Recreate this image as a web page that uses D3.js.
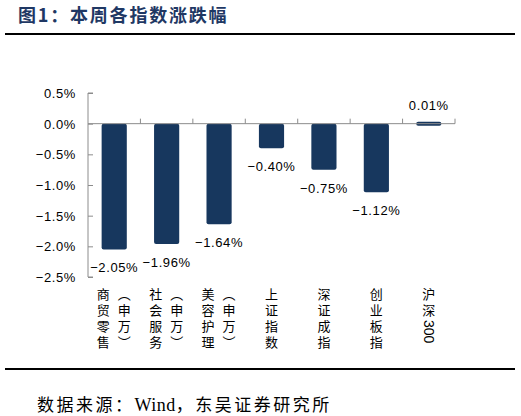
<!DOCTYPE html>
<html>
<head>
<meta charset="utf-8">
<script src="https://cdn.jsdelivr.net/npm/d3@7"></script>
<style>
  body { margin: 0; background: #fff; }
  svg { display: block; }
  .cat { font-family: "Noto Sans CJK SC", sans-serif; font-size: 13px; fill: #000; writing-mode: vertical-rl; letter-spacing: 3px; }
  .num { font-family: "Liberation Sans", Arial, sans-serif; font-size: 13px; fill: #000; letter-spacing: 0.6px; }
</style>
</head>
<body>
<svg id="chart" width="521" height="416"></svg>
<script>
// weekly change of each index (%)
const categories = ['商贸零售（申万）', '社会服务（申万）', '美容护理（申万）', '上证指数', '深证成指', '创业板指', '沪深300'];
// label columns for the vertical category text
const catLines = [
  ['商贸零售', '（申万）'],
  ['社会服务', '（申万）'],
  ['美容护理', '（申万）'],
  ['上证指数'],
  ['深证成指'],
  ['创业板指'],
  ['沪深300']
];
const values = [-2.05, -1.96, -1.64, -0.40, -0.75, -1.12, 0.01];
const yTicks = [0.5, 0.0, -0.5, -1.0, -1.5, -2.0, -2.5];

const svg = d3.select('#chart');
const barColor = '#17375e';
const axisColor = '#8c8c8c';

// title + rules
svg.append('text')
  .attr('x', 18).attr('y', 22)
  .attr('font-family', '"Noto Sans CJK SC", sans-serif')
  .attr('font-size', 18).attr('font-weight', 'bold')
  .attr('letter-spacing', 1.8)
  .attr('fill', '#1f3864')
  .text('图1：本周各指数涨跌幅');
svg.append('line').attr('x1', 5).attr('x2', 515).attr('y1', 34).attr('y2', 34)
  .attr('stroke', '#000').attr('stroke-width', 2);
svg.append('line').attr('x1', 5).attr('x2', 515).attr('y1', 369).attr('y2', 369)
  .attr('stroke', '#000').attr('stroke-width', 2);

const src = svg.append('text')
  .attr('x', 37).attr('y', 411)
  .attr('font-family', '"Noto Sans CJK SC", sans-serif')
  .attr('font-size', 17).attr('letter-spacing', 2.5).attr('fill', '#000');
src.append('tspan').text('数据来源：');
src.append('tspan').attr('font-family', '"Liberation Serif", serif').attr('font-size', 18).attr('letter-spacing', 0.5).text('Wind');
src.append('tspan').text('，东吴证券研究所');

// scales
const x = d3.scaleBand().domain(categories).range([88, 455]).paddingInner(0).paddingOuter(0);
const y = d3.scaleLinear().domain([-2.5, 0.5]).range([277, 93]);
const barW = x.bandwidth() * 0.48;

// y axis (ticks point inward)
const yAxis = svg.append('g').attr('transform', 'translate(88,0)')
  .call(d3.axisRight(y).tickValues(yTicks).tickSize(5).tickFormat(''));
yAxis.select('.domain').attr('stroke', axisColor).attr('d', `M5,${y(0.5)}H0V${y(-2.5)}H5`);
yAxis.selectAll('.tick line').attr('stroke', axisColor);

svg.append('g').selectAll('text').data(yTicks).join('text')
  .attr('class', 'num')
  .attr('x', 76).attr('y', d => y(d) + 5)
  .attr('text-anchor', 'end')
  .text(d => d3.format('.1f')(d) + '%');

// bars
svg.append('g').selectAll('rect').data(values).join('rect')
  .attr('x', (d, i) => x(categories[i]) + (x.bandwidth() - barW) / 2)
  .attr('y', d => d >= 0 ? y(0) - 2 : y(0))
  .attr('width', barW)
  .attr('height', d => Math.max(4, Math.abs(y(d) - y(0))))
  .attr('rx', 2)
  .attr('fill', barColor);

// x axis at zero with upward boundary ticks
const boundaries = categories.map(c => x(c) + x.bandwidth());
const xg = svg.append('g');
xg.append('line').attr('x1', 88).attr('x2', 455).attr('y1', y(0)).attr('y2', y(0))
  .attr('stroke', axisColor);
xg.selectAll('.bt').data(boundaries).join('line')
  .attr('class', 'bt')
  .attr('x1', d => d).attr('x2', d => d)
  .attr('y1', y(0)).attr('y2', y(0) - 5)
  .attr('stroke', axisColor);

// value labels
svg.append('g').selectAll('text').data(values).join('text')
  .attr('class', 'num')
  .attr('x', (d, i) => x(categories[i]) + x.bandwidth() / 2)
  .attr('y', d => d < 0 ? y(d) + 23 : y(0) - 14)
  .attr('text-anchor', 'middle')
  .text(d => (d < 0 ? '−' : '') + Math.abs(d).toFixed(2) + '%');

// vertical category labels
catLines.forEach((lines, i) => {
  const cx = x(categories[i]) + x.bandwidth() / 2;
  const offs = lines.length === 2 ? [-11, 10] : [0];
  lines.forEach((ln, j) => {
    const t = svg.append('text')
      .attr('class', 'cat')
      .attr('x', cx + offs[j])
      .attr('y', 288);
    // digits run sideways without the extra CJK spacing
    const m = ln.match(/^(\D*)(\d*)$/);
    t.append('tspan').text(m[1]);
    if (m[2]) t.append('tspan').attr('font-family', '"Liberation Sans", Arial, sans-serif').attr('font-size', 14).style('letter-spacing', '0px').text(m[2]);
  });
});
</script>
</body>
</html>
